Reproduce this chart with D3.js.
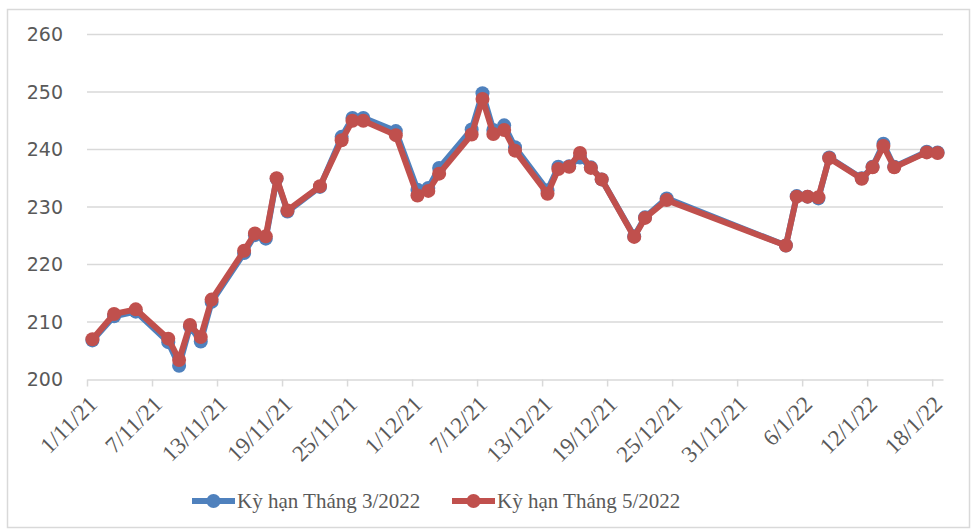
<!DOCTYPE html>
<html>
<head>
<meta charset="utf-8">
<script src="https://cdn.jsdelivr.net/npm/d3@7"></script>
<style>
  html, body { margin: 0; padding: 0; background: #fff; }
  svg { display: block; }
</style>
</head>
<body>
<svg id="chart" width="972" height="531"></svg>
<script>
// Trading days (d/m/yy)
const dates = [
  "1/11/21","3/11/21","5/11/21","8/11/21","9/11/21","10/11/21","11/11/21","12/11/21",
  "15/11/21","16/11/21","17/11/21","18/11/21","19/11/21","22/11/21","24/11/21","25/11/21",
  "26/11/21","29/11/21","1/12/21","2/12/21","3/12/21","6/12/21","7/12/21","8/12/21",
  "9/12/21","10/12/21","13/12/21","14/12/21","15/12/21","16/12/21","17/12/21","18/12/21",
  "21/12/21","22/12/21","24/12/21","4/1/22","5/1/22","6/1/22","7/1/22","8/1/22",
  "11/1/22","12/1/22","13/1/22","14/1/22","17/1/22","18/1/22"
];

// Kỳ hạn Tháng 3/2022
const march2022 = [
  206.8, 211.0, 211.8, 206.5, 202.4, 209.2, 206.6, 213.5,
  222.0, 225.1, 224.5, 234.9, 229.2, 233.5, 242.2, 245.5,
  245.5, 243.2, 233.0, 233.3, 236.8, 243.5, 249.8, 243.4,
  244.2, 240.4, 232.9, 237.0, 237.1, 238.6, 236.9, 234.8,
  224.9, 228.2, 231.5, 223.3, 231.9, 231.8, 231.5, 238.6,
  235.0, 237.0, 241.0, 237.0, 239.6, 239.5
];

// Kỳ hạn Tháng 5/2022
const may2022 = [
  207.0, 211.4, 212.2, 207.1, 203.4, 209.5, 207.4, 213.9,
  222.4, 225.4, 224.9, 235.0, 229.4, 233.6, 241.6, 245.0,
  245.0, 242.5, 232.0, 232.8, 235.8, 242.6, 248.8, 242.7,
  243.4, 239.8, 232.3, 236.6, 237.0, 239.4, 236.8, 234.8,
  224.8, 228.1, 231.2, 223.3, 231.8, 231.8, 231.7, 238.5,
  234.9, 236.9, 240.6, 236.9, 239.5, 239.4
];

const xTickLabels = [
  "1/11/21","7/11/21","13/11/21","19/11/21","25/11/21","1/12/21","7/12/21",
  "13/12/21","19/12/21","25/12/21","31/12/21","6/1/22","12/1/22","18/1/22"
];
const yTicks = [200, 210, 220, 230, 240, 250, 260];
const seriesNames = ["Kỳ hạn Tháng 3/2022", "Kỳ hạn Tháng 5/2022"];
const seriesColors = ["#4F81BD", "#C0504D"];

const parse = d3.timeParse("%d/%m/%y");
const svg = d3.select("#chart");

// outer frame
svg.append("rect")
  .attr("x", 7.5).attr("y", 9.5)
  .attr("width", 962).attr("height", 518)
  .attr("fill", "none").attr("stroke", "#d9d9d9").attr("stroke-width", 1.5);

const x = d3.scaleTime()
  .domain([parse("1/11/21"), parse("19/1/22")])
  .range([87, 943]);
const y = d3.scaleLinear().domain([200, 260]).range([379.5, 34.5]);

// horizontal gridlines
svg.append("g")
  .selectAll("line")
  .data(yTicks.slice(1))
  .join("line")
  .attr("x1", x.range()[0]).attr("x2", x.range()[1])
  .attr("y1", d => y(d)).attr("y2", d => y(d))
  .attr("stroke", "#d9d9d9").attr("stroke-width", 1.5);

// y axis labels
const yAxis = d3.axisLeft(y).tickValues(yTicks).tickSize(0).tickPadding(24);
svg.append("g")
  .attr("transform", `translate(${x.range()[0]},0)`)
  .call(yAxis)
  .call(g => g.select(".domain").remove())
  .call(g => g.selectAll("text")
    .attr("font-family", "'DejaVu Sans', sans-serif")
    .attr("font-size", 19)
    .attr("fill", "#595959"));

// x axis
const xAxis = d3.axisBottom(x)
  .tickValues(xTickLabels.map(parse))
  .tickFormat(d3.timeFormat("%-d/%-m/%y"))
  .tickSizeInner(7).tickSizeOuter(0);
svg.append("g")
  .attr("transform", `translate(0,${y(200)})`)
  .call(xAxis)
  .call(g => g.select(".domain").attr("stroke", "#d9d9d9").attr("stroke-width", 1.5))
  .call(g => g.selectAll(".tick line").attr("stroke", "#d9d9d9").attr("stroke-width", 1.5))
  .call(g => g.selectAll("text")
    .attr("font-family", "'Liberation Serif', 'Times New Roman', serif")
    .attr("font-size", 23)
    .attr("fill", "#595959")
    .attr("text-anchor", "end")
    .attr("dy", null)
    .attr("transform", "translate(4,19) rotate(-45)"));

// series (points sit at mid-day)
const midDay = s => d3.timeHour.offset(parse(s), 12);
const seriesData = [march2022, may2022].map(vals =>
  vals.map((v, i) => ({ date: midDay(dates[i]), value: v })));

const line = d3.line().x(d => x(d.date)).y(d => y(d.value));

seriesData.forEach((data, k) => {
  const g = svg.append("g");
  g.append("path")
    .datum(data)
    .attr("d", line)
    .attr("fill", "none")
    .attr("stroke", seriesColors[k])
    .attr("stroke-width", 6)
    .attr("stroke-linejoin", "round");
  g.selectAll("circle")
    .data(data)
    .join("circle")
    .attr("cx", d => x(d.date)).attr("cy", d => y(d.value))
    .attr("r", 7)
    .attr("fill", seriesColors[k]);
});

// legend
const legendItems = [
  { name: seriesNames[0], color: seriesColors[0], x0: 192 },
  { name: seriesNames[1], color: seriesColors[1], x0: 452 }
];
const legend = svg.append("g");
legendItems.forEach(it => {
  const g = legend.append("g").attr("transform", `translate(${it.x0},501)`);
  g.append("line").attr("x1", 0).attr("x2", 43).attr("y1", 0).attr("y2", 0)
    .attr("stroke", it.color).attr("stroke-width", 6);
  g.append("circle").attr("cx", 21.5).attr("cy", 0).attr("r", 7).attr("fill", it.color);
  g.append("text").attr("x", 45).attr("y", 7)
    .attr("font-family", "'Liberation Serif', 'Times New Roman', serif")
    .attr("font-size", 21)
    .attr("fill", "#595959")
    .text(it.name);
});
</script>
</body>
</html>
